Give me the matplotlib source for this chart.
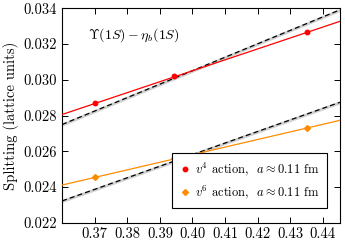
import numpy as np
import matplotlib
matplotlib.use("Agg")
import matplotlib.pyplot as plt

plt.rcParams['font.family'] = 'serif'
plt.rcParams['font.serif'] = ['cmr10']
plt.rcParams['mathtext.fontset'] = 'cm'
plt.rcParams['axes.formatter.use_mathtext'] = True

# data
x_pts = [0.370, 0.3942, 0.435]
v4_vals = [0.02871, 0.03021, 0.03269]
v4_err = [0.00006, 0.00006, 0.00006]
v6_vals = [0.02455, 0.02560, 0.02730]
v6_err = [0.00005, 0.00005, 0.00005]

# fit lines: (value at x=0.36, slope)
v4_fit = (0.02806, 0.0612)
v6_fit = (0.02411, 0.0425)
v4_dash = (0.02750, 0.0753)
v6_dash = (0.02322, 0.0648)
band_half = 0.00009

xlim = (0.36, 0.4452)
xx = np.linspace(xlim[0], xlim[1], 50)

fig = plt.figure(figsize=(3.45, 2.40), dpi=100)
ax = fig.add_axes([0.18, 0.072, 0.805, 0.893])

for c0, s in (v4_dash, v6_dash):
    yy = c0 + s * (xx - 0.36)
    ax.fill_between(xx, yy - band_half, yy + band_half, color='#d0d0d0', lw=0, zorder=1)
    ax.plot(xx, yy, color='black', ls=(0, (4, 2.5)), lw=0.9, zorder=2)

ax.plot(xx, v4_fit[0] + v4_fit[1] * (xx - 0.36), color='red', lw=0.9, zorder=3)
ax.plot(xx, v6_fit[0] + v6_fit[1] * (xx - 0.36), color='#ff8c00', lw=0.9, zorder=3)

ax.errorbar(x_pts, v4_vals, yerr=v4_err, fmt='o', color='red', ms=3.2,
            capsize=1.5, elinewidth=0.8, zorder=4)
ax.errorbar(x_pts, v6_vals, yerr=v6_err, fmt='D', color='#ff8c00', ms=3.0,
            capsize=1.5, elinewidth=0.8, zorder=4)
# legend handles without error bars
ax.plot([], [], 'o', color='red', ms=3.2, label=r'$v^4$ action,  $a \approx 0.11$ fm')
ax.plot([], [], 'D', color='#ff8c00', ms=3.0, label=r'$v^6$ action,  $a \approx 0.11$ fm')

ax.text(0.368, 0.0323, r'$\Upsilon(1S) - \eta_b(1S)$', fontsize=10)

ax.set_xlim(*xlim)
ax.set_ylim(0.022, 0.034)
ax.set_xticks([0.37, 0.38, 0.39, 0.40, 0.41, 0.42, 0.43, 0.44])
ax.set_yticks([0.022, 0.024, 0.026, 0.028, 0.030, 0.032, 0.034])
ax.set_xticklabels(['0.37', '0.38', '0.39', '0.40', '0.41', '0.42', '0.43', '0.44'])
ax.set_yticklabels(['0.022', '0.024', '0.026', '0.028', '0.030', '0.032', '0.034'])
ax.tick_params(direction='in', top=True, right=True, length=4, width=0.7, labelsize=10.5)
ax.set_ylabel('Splitting (lattice units)', fontsize=10.5, labelpad=3)
for sp in ax.spines.values():
    sp.set_linewidth(0.8)

leg = ax.legend(loc='lower right', bbox_to_anchor=(0.953, 0.068), fontsize=9,
                fancybox=False, framealpha=1, edgecolor='black',
                handletextpad=0.3, handlelength=0.9, borderaxespad=0.0,
                borderpad=0.6, labelspacing=0.45)
leg.get_frame().set_linewidth(0.8)

fig.savefig('out.png', dpi=100)
